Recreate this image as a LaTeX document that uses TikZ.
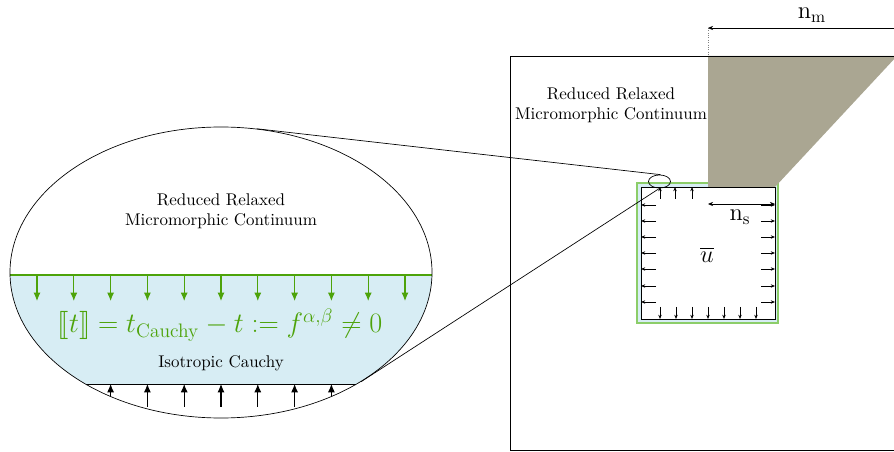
\documentclass[tikz,border=0pt]{standalone}
\usepackage{amsmath}
\usepackage{amssymb}
\usepackage{stmaryrd}
\usepackage{xcolor}
\usepackage{tikz}
\usetikzlibrary{positioning,shapes.geometric,arrows.meta}

\definecolor{jumpgreen}{RGB}{77,163,10}
\definecolor{cauchyblue}{RGB}{215,237,244}
\definecolor{microgray}{RGB}{170,166,146}
\definecolor{squaregreen}{RGB}{140,205,105}

\begin{document}
\begin{tikzpicture}[x=0.59pt,y=-0.59pt,
  tract/.style={semithick,-{Latex[length=5pt,width=4.2pt]}},
  smalltract/.style={-{Stealth[length=2.5pt,width=2pt]}}]
\useasboundingbox (0,0) rectangle (894,452);
\clip (0,0) rectangle (894,452);

% zoomed interface
\begin{scope}
\clip (221,272.5) ellipse [x radius=211, y radius=145.5];
\fill[cauchyblue] (0,275) rectangle (440,384);
\draw (0,384) -- (440,384);
\foreach \k in {2,...,8}
  \draw[tract] ({37+36.8*\k},407) -- ({37+36.8*\k},384);
\draw[jumpgreen,line width=1.3pt] (0,275) -- (440,275);
\end{scope}
\foreach \k in {0,...,10}
  \draw[jumpgreen,tract] ({37+36.8*\k},275) -- ({37+36.8*\k},301);
\node[ellipse,draw,minimum width=249pt,minimum height=171.7pt,inner sep=0pt] (lens) at (221,272.5) {};
\node[align=center] (rrmm) at (221,211) {Reduced Relaxed\\Micromorphic Continuum};
\node[jumpgreen,font=\LARGE,scale=0.96] (jump) at (220,325) {$\llbracket t\rrbracket = t_{\mathrm{Cauchy}} - t := f^{\alpha,\beta} \neq 0$};
\node (iso) at (221,363) {Isotropic Cauchy};

% domain
\draw[gray,densely dotted] (708,28) -- (708,205);
\draw[squaregreen,fill=cauchyblue,line width=0.9pt] (637,183) rectangle (778,323);
\draw[fill=white] (641,187) rectangle (775,319);
\fill[microgray] (708,56) -- (897,56) -- (775,187) -- (708,187) -- cycle;
\draw (510,56) rectangle (910,450);
\node[align=center] (rrmmout) at (611,105) {Reduced Relaxed\\Micromorphic Continuum};

% tractions on the square
\foreach \x in {660,675,692}
  \draw[smalltract] (\x,199) -- (\x,187);
\foreach \y in {205,221,237,253,269,286,302} {
  \draw[smalltract] (656,\y) -- (641,\y);
  \draw[smalltract] (761,\y) -- (775,\y);
}
\foreach \x in {660,676,692,708,724,740,756}
  \draw[smalltract] (\x,307) -- (\x,319);

% dimensions
\draw[{Stealth[length=3pt,width=2.5pt]}-] (708,28) -- (900,28);
\node[font=\Large] (nm) at (812,15) {$\mathrm{n}_{\mathrm{m}}$};
\draw[{Stealth[length=3pt,width=2.5pt]}-{Stealth[length=3pt,width=2.5pt]}] (708,204) -- (775,204);
\node[font=\Large] (ns) at (740,217) {$\mathrm{n}_{\mathrm{s}}$};
\node[font=\Large] (ubar) at (707,255) {$\overline{u}$};

% magnifier
\node[ellipse,draw,minimum width=13pt,minimum height=7.7pt,inner sep=0pt] (zoom) at (659.5,181.5) {};
\draw (lens.76.7) -- (zoom.80);
\draw (lens.-38.5) -- (zoom.south);
\end{tikzpicture}
\end{document}
